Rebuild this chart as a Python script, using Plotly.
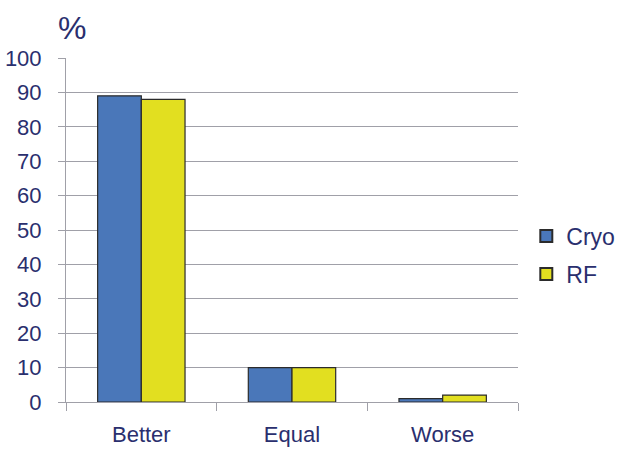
import plotly.graph_objects as go

categories = ["Better", "Equal", "Worse"]
cryo = [89, 10, 1]
rf = [88, 10, 2]
yticks = list(range(0, 101, 10))

navy = "#2a2f6e"
fig = go.Figure()
fig.add_trace(go.Bar(name="Cryo", x=categories, y=cryo, legendgroup="a",
                     marker=dict(color="#4a77b9", line=dict(color="#2b2b2b", width=1.2))))
fig.add_trace(go.Bar(name="RF", x=categories, y=rf, legendgroup="b",
                     marker=dict(color="#e2df20", line=dict(color="#2b2b2b", width=1.2))))

fig.update_layout(
    width=617, height=450,
    margin=dict(l=66, r=99, t=58, b=48, autoexpand=False),
    paper_bgcolor="white", plot_bgcolor="white",
    barmode="group", bargap=0.42, bargroupgap=0,
    font=dict(family="Liberation Sans, Arial", size=22, color=navy),
    legend=dict(xref="container", yref="container", x=0.853, y=0.433,
                yanchor="middle", xanchor="left", tracegroupgap=5,
                font=dict(size=23, color=navy), itemsizing="constant",
                bgcolor="rgba(0,0,0,0)"),
    showlegend=True,
)
fig.update_xaxes(
    showline=True, linecolor="#a0a0a8", linewidth=1,
    ticks="outside", tickson="boundaries", ticklen=8, tickcolor="#a0a0a8",
    showgrid=False, tickfont=dict(size=22, color=navy), ticklabelstandoff=13,
)
fig.update_yaxes(
    range=[0, 100], tickvals=yticks, ticktext=[str(v) for v in yticks],
    showline=True, linecolor="#a0a0a8", linewidth=1,
    ticks="outside", ticklen=7, tickcolor="#a0a0a8",
    showgrid=True, gridcolor="#a0a0a8", gridwidth=1,
    zeroline=False, tickfont=dict(size=22, color=navy), ticklabelstandoff=12,
)
fig.add_annotation(text="%", xref="paper", yref="paper", x=-0.022, y=1.088,
                   xanchor="left", yanchor="middle", showarrow=False,
                   font=dict(size=32, color=navy))
fig.write_html("out.html")
